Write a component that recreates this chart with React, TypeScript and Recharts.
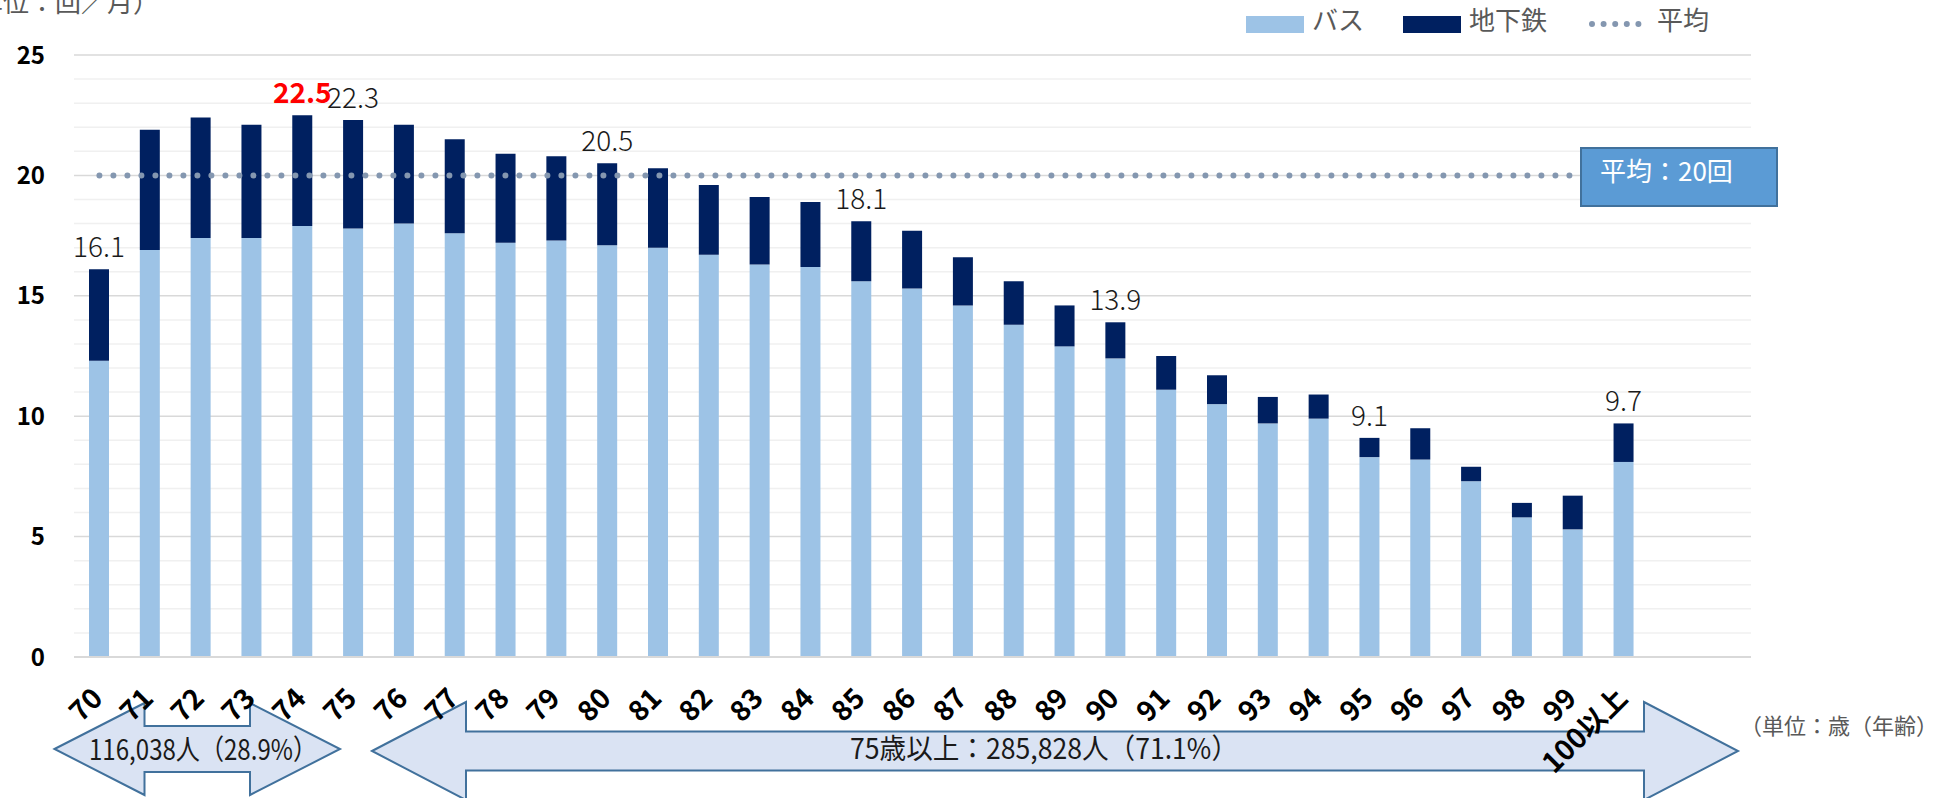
import { Bar, CartesianGrid, ComposedChart, LabelList, Line, XAxis, YAxis } from "recharts";

const ages = [
  "70", "71", "72", "73", "74", "75", "76", "77", "78", "79",
  "80", "81", "82", "83", "84", "85", "86", "87", "88", "89",
  "90", "91", "92", "93", "94", "95", "96", "97", "98", "99", "100以上",
];
// trips per month
const busTrips = [
  12.3, 16.9, 17.4, 17.4, 17.9, 17.8, 18.0, 17.6, 17.2, 17.3,
  17.1, 17.0, 16.7, 16.3, 16.2, 15.6, 15.3, 14.6, 13.8, 12.9,
  12.4, 11.1, 10.5, 9.7, 9.9, 8.3, 8.2, 7.3, 5.8, 5.3, 8.1,
];
const subwayTrips = [
  3.8, 5.0, 5.0, 4.7, 4.6, 4.5, 4.1, 3.9, 3.7, 3.5,
  3.4, 3.3, 2.9, 2.8, 2.7, 2.5, 2.4, 2.0, 1.8, 1.7,
  1.5, 1.4, 1.2, 1.1, 1.0, 0.8, 1.3, 0.6, 0.6, 1.4, 1.6,
];
const averageTrips = 20;
const labeledAges = ["70", "74", "75", "80", "85", "90", "95", "100以上"];
const peakAge = "74";
// Excel left two empty slots at the right end of the plot
const spareSlots = [" ", "  "];
const yTicks = [0, 5, 10, 15, 20, 25];
const minorGrid = [1, 2, 3, 4, 6, 7, 8, 9, 11, 12, 13, 14, 16, 17, 18, 19, 21, 22, 23, 24];

const legendItems = [
  { name: "バス", kind: "rect", color: "#9dc3e6" },
  { name: "地下鉄", kind: "rect", color: "#002060" },
  { name: "平均", kind: "dots", color: "#8497b0" },
];

const jp = '"Noto Sans CJK JP", "Noto Sans", sans-serif';

const chartData = [
  ...ages.map((age, i) => ({ age, bus: busTrips[i], subway: subwayTrips[i], avg: averageTrips })),
  ...spareSlots.map((age) => ({ age, bus: null, subway: null, avg: null })),
];

function AgeTick(props: any) {
  const { x, y, payload } = props;
  const text = String(payload?.value ?? "");
  if (!text.trim()) return <g />;
  const px = x + 5;
  const py = y + 43;
  return (
    <text
      x={px}
      y={py}
      transform={`rotate(-45 ${px} ${py})`}
      textAnchor="end"
      fontSize={28}
      fontWeight={700}
      fontFamily={jp}
      fill="#000"
    >
      {text}
    </text>
  );
}

function TotalLabel(props: any) {
  const box = props.viewBox ?? props;
  const index = props.index;
  const age = ages[index];
  if (age === undefined || !labeledAges.includes(age)) return null;
  const top = Math.min(box.y, box.y + box.height);
  const total = (busTrips[index] + subwayTrips[index]).toFixed(1);
  const peak = age === peakAge;
  return (
    <text
      x={box.x + box.width / 2}
      y={top - 12}
      textAnchor="middle"
      fontSize={28}
      fontWeight={peak ? 700 : 300}
      fontFamily={jp}
      fill={peak ? "#ff0000" : "#1a1a1a"}
    >
      {total}
    </text>
  );
}

function doubleArrow(x1: number, x2: number, cy: number, head: number, headHalf: number, shaftHalf: number) {
  const pts = [
    [x1, cy],
    [x1 + head, cy - headHalf],
    [x1 + head, cy - shaftHalf],
    [x2 - head, cy - shaftHalf],
    [x2 - head, cy - headHalf],
    [x2, cy],
    [x2 - head, cy + headHalf],
    [x2 - head, cy + shaftHalf],
    [x1 + head, cy + shaftHalf],
    [x1 + head, cy + headHalf],
  ];
  return pts.map((p) => p.join(",")).join(" ");
}

export default function App() {
  const layer = { position: "absolute" as const, left: 0, top: 0 };

  return (
    <div style={{ position: "absolute", left: 0, top: 0, width: 1950, height: 798, overflow: "hidden", background: "#fff" }}>
      {/* arrows sit behind the chart so the rotated age labels draw over them */}
      <svg width={1950} height={798} style={layer}>
        <polygon points={doubleArrow(54.5, 340, 749, 90, 46, 23)} fill="#dae3f3" stroke="#41719c" strokeWidth={2} />
        <text x={203} y={760} textAnchor="middle" fontSize={28} fontFamily={jp} fill="#1a1a1a" textLength={228} lengthAdjust="spacingAndGlyphs">
          116,038人（28.9%）
        </text>
        <polygon points={doubleArrow(372, 1738, 751, 94, 49, 19.5)} fill="#dae3f3" stroke="#41719c" strokeWidth={2} />
        <text x={1044} y={759} textAnchor="middle" fontSize={28} fontFamily={jp} fill="#1a1a1a" textLength={388} lengthAdjust="spacingAndGlyphs">
          75歳以上：285,828人（71.1%）
        </text>
        <text x={1740} y={734} fontSize={22} fontFamily={jp} fill="#595959">
          （単位：歳（年齢）
        </text>
      </svg>

      <div style={layer}>
        <ComposedChart width={1950} height={798} data={chartData} margin={{ top: 55, right: 199, bottom: 0, left: 0 }} barCategoryGap={0}>
          <CartesianGrid vertical={false} horizontalValues={minorGrid} stroke="#f0f0f0" strokeWidth={1.5} />
          <CartesianGrid vertical={false} horizontalValues={yTicks} stroke="#d9d9d9" strokeWidth={1.5} />
          <XAxis
            dataKey="age"
            interval={0}
            height={141}
            tickLine={false}
            tickSize={0}
            tickMargin={0}
            axisLine={{ stroke: "#d9d9d9", strokeWidth: 2 }}
            tick={<AgeTick />}
          />
          <YAxis
            domain={[0, 25]}
            ticks={yTicks}
            width={74}
            axisLine={false}
            tickLine={false}
            tickSize={0}
            tickMargin={29}
            tick={{ fill: "#000", fontSize: 24, fontWeight: 700, fontFamily: jp }}
          />
          <Bar dataKey="bus" stackId="trips" fill="#9dc3e6" barSize={20} isAnimationActive={false} />
          <Bar dataKey="subway" stackId="trips" fill="#002060" barSize={20} isAnimationActive={false}>
            <LabelList dataKey="subway" content={<TotalLabel />} />
          </Bar>
          <Line
            type="linear"
            dataKey="avg"
            stroke="#8497b0"
            strokeWidth={6}
            strokeDasharray="0 14"
            strokeLinecap="round"
            dot={false}
            activeDot={false}
            isAnimationActive={false}
          />
        </ComposedChart>
      </div>

      <svg width={1950} height={798} style={{ ...layer, pointerEvents: "none" }}>
        <text x={-49} y={12} fontSize={26} fontFamily={jp} fill="#595959">
          （単位：回／月）
        </text>

        <rect x={1581} y={148} width={196} height={58} fill="#5b9bd5" stroke="#41719c" strokeWidth={2} />
        <text x={1600} y={181} fontSize={26} fontFamily={jp} fill="#ffffff">
          平均：20回
        </text>

        {legendItems.map((item, i) => {
          const x0 = [1246, 1403, 1589][i];
          if (item.kind === "rect") {
            return (
              <g key={item.name}>
                <rect x={x0} y={16} width={58} height={17} fill={item.color} />
                <text x={x0 + 66} y={30} fontSize={26} fontFamily={jp} fill="#595959">
                  {item.name}
                </text>
              </g>
            );
          }
          return (
            <g key={item.name}>
              <line x1={x0 + 3} y1={24} x2={x0 + 61} y2={24} stroke={item.color} strokeWidth={6} strokeDasharray="0 11.6" strokeLinecap="round" />
              <text x={x0 + 68} y={30} fontSize={26} fontFamily={jp} fill="#595959">
                {item.name}
              </text>
            </g>
          );
        })}
      </svg>
    </div>
  );
}
